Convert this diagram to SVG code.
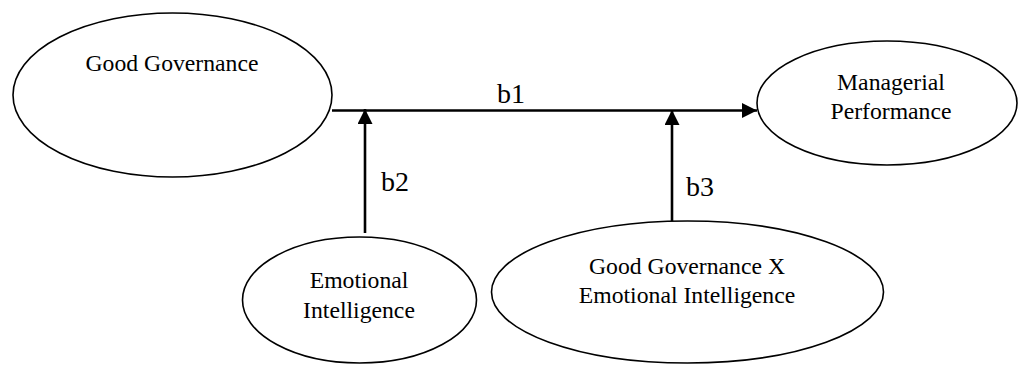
<svg xmlns="http://www.w3.org/2000/svg" width="1019" height="365" viewBox="0 0 1019 365">
<style>
.node{fill:#fff;stroke:#000;stroke-width:1.6}
.t{font-family:"Liberation Serif","Times New Roman","DejaVu Serif",serif;font-size:23.7px;fill:#000;text-anchor:middle}
.lbl{font-family:"Liberation Serif","Times New Roman","DejaVu Serif",serif;font-size:28px;fill:#000}
.c{stroke:#000;stroke-width:2.6;fill:none}
</style>
<defs>
<marker id="ah" markerUnits="userSpaceOnUse" markerWidth="16" markerHeight="16" refX="15" refY="7.5" orient="auto">
<path d="M0,0 L15,7.5 L0,15 z" fill="#000"/>
</marker>
</defs>
<rect width="1019" height="365" fill="#fff"/>
<g id="n-gg">
<ellipse class="node" cx="172.5" cy="95" rx="159.5" ry="82"/>
<text class="t" x="172" y="71">Good Governance</text>
</g>
<g id="n-mp">
<ellipse class="node" cx="887" cy="103" rx="130" ry="62"/>
<text class="t" x="891" y="90">Managerial</text>
<text class="t" x="891" y="119">Performance</text>
</g>
<g id="n-ei">
<ellipse class="node" cx="359.5" cy="300" rx="117" ry="63"/>
<text class="t" x="359" y="288">Emotional</text>
<text class="t" x="359" y="318">Intelligence</text>
</g>
<g id="n-ggxei">
<ellipse class="node" cx="687.5" cy="292" rx="196" ry="71"/>
<text class="t" x="687" y="274">Good Governance X</text>
<text class="t" x="687" y="303">Emotional Intelligence</text>
</g>
<g id="connectors">
<line class="c" x1="332" y1="110.5" x2="757" y2="110.5" marker-end="url(#ah)"/>
<line class="c" x1="365" y1="233" x2="365" y2="109" marker-end="url(#ah)"/>
<line class="c" x1="672" y1="221" x2="672" y2="110" marker-end="url(#ah)"/>
<text class="lbl" x="497" y="103">b1</text>
<text class="lbl" x="381" y="191">b2</text>
<text class="lbl" x="686" y="196">b3</text>
</g>
</svg>
